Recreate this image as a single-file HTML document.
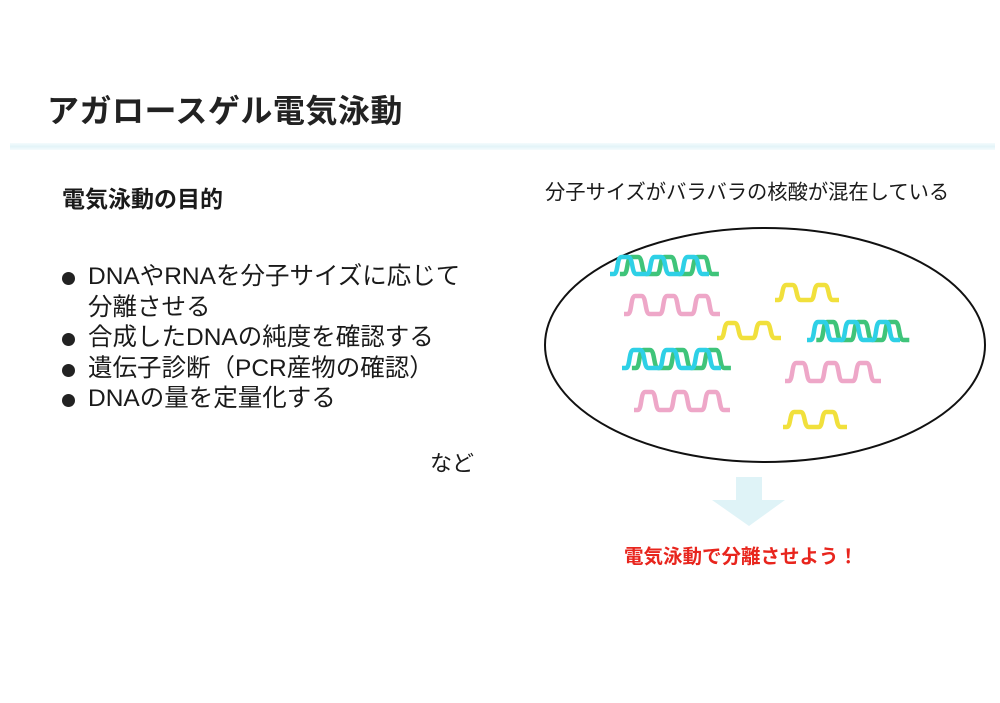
<!DOCTYPE html>
<html><head><meta charset="utf-8"><style>
body{margin:0;width:1000px;height:703px;background:#fff;position:relative;overflow:hidden;font-family:"Liberation Sans","Noto Sans CJK JP",sans-serif;color:#1a1a1a}
.a{position:absolute;white-space:nowrap}
.l{position:relative;padding-left:26px;height:30.5px}
.l.b:before{content:"";position:absolute;left:0;top:10px;width:13px;height:13px;border-radius:50%;background:#222}
</style></head><body>
<div class="a" style="left:47px;top:86px;font-size:32px;font-weight:bold;letter-spacing:0.5px;color:#222">アガロースゲル電気泳動</div>
<div class="a" style="left:10px;top:143px;width:985px;height:7px;background:linear-gradient(#f4fbfd,#e3f4f8,#f4fbfd)"></div>
<div class="a" style="left:62px;top:180px;font-size:23px;font-weight:bold">電気泳動の目的</div>
<div class="a" style="left:62px;top:262px;font-size:24.5px;line-height:30.5px">
<div class="l b">DNAやRNAを分子サイズに応じて</div>
<div class="l">分離させる</div>
<div class="l b">合成したDNAの純度を確認する</div>
<div class="l b">遺伝子診断（PCR産物の確認）</div>
<div class="l b">DNAの量を定量化する</div>
</div>
<div class="a" style="left:430px;top:446px;font-size:22px">など</div>
<div class="a" style="left:545px;top:175px;font-size:20.3px">分子サイズがバラバラの核酸が混在している</div>
<div class="a" style="left:624px;top:540px;font-size:19.5px;font-weight:bold;color:#e8251d">電気泳動で分離させよう！</div>
<svg class="a" style="left:0;top:0" width="1000" height="703" id="s">
<ellipse cx="765" cy="345" rx="220" ry="117" fill="none" stroke="#111" stroke-width="2"/>
<polygon points="736,477 762,477 762,500 785,500 749,526 712,500 736,500" fill="#dff3f7"/>
</svg>
<script>
var s=document.getElementById('s');
function wave(x,y,w,h,n,col){var d='M'+x+','+(y+h);for(var i=0;i<n;i++){var x0=x+i*w;d+=' L'+(x0+0.12*w)+','+(y+h)+' C'+(x0+0.25*w)+','+(y+h)+' '+(x0+0.2*w)+','+y+' '+(x0+0.35*w)+','+y+' L'+(x0+0.55*w)+','+y+' C'+(x0+0.7*w)+','+y+' '+(x0+0.65*w)+','+(y+h)+' '+(x0+0.8*w)+','+(y+h)+' L'+(x0+w)+','+(y+h);}
var p=document.createElementNS('http://www.w3.org/2000/svg','path');p.setAttribute('d',d);p.setAttribute('fill','none');p.setAttribute('stroke',col);p.setAttribute('stroke-width','4.5');s.appendChild(p);}
function ds(x,y,w,h,n){wave(x+w*0.3,y,w,h,n,'#3fc47a');wave(x,y,w,h,n,'#2ed0e6');}
ds(610,257,33,17,3);
ds(807,322,31,18,3);
ds(622,350,33,18,3);
wave(624,296,32,18,3,'#eea7c8');
wave(785,363,32,18,3,'#eea7c8');
wave(634,392,32,18,3,'#eea7c8');
wave(775,285,32,15,2,'#f1e03c');
wave(717,323,32,15,2,'#f1e03c');
wave(783,412,32,15,2,'#f1e03c');
</script>
</body></html>
